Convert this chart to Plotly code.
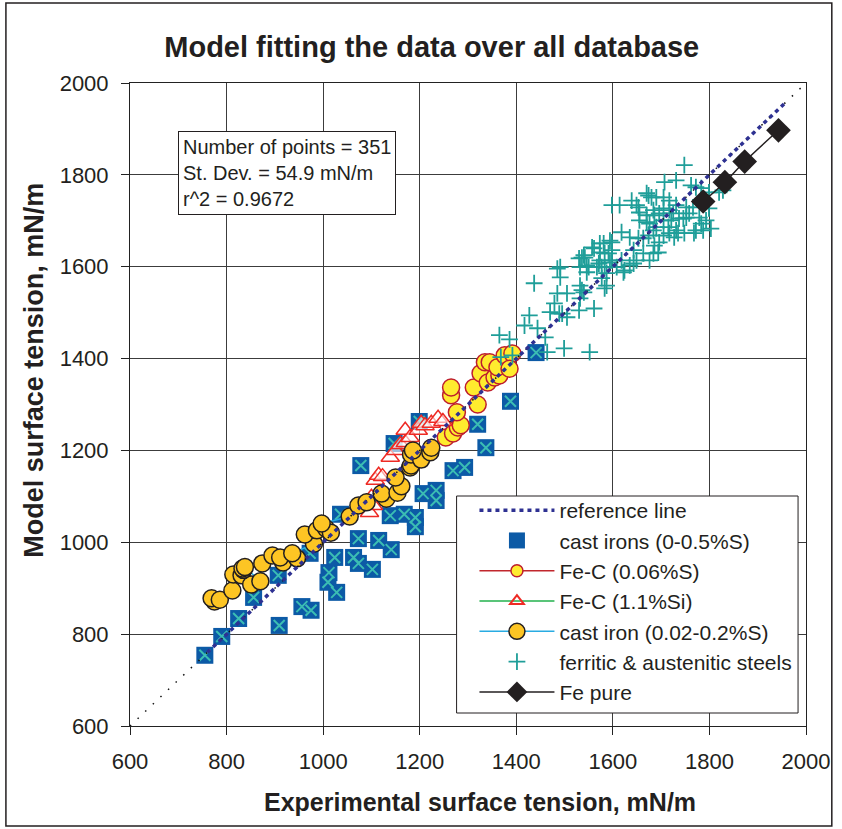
import plotly.graph_objects as go

# ---------------- data ----------------
ref_x = [760, 1960]
ref_y = [760, 1960]
diag_x = [600, 2000]
diag_y = [600, 2000]

cast_x = [755, 790, 825, 856, 907, 909, 956, 975, 973, 1010, 1012, 1028, 1024, 1036, 1063, 1073,
          1102, 1073, 1115, 1141, 1139, 1168, 1191, 1191, 1207, 1234, 1234, 1078, 1147, 1199,
          1269, 1293, 1337, 1320, 1388, 1441]
cast_y = [754, 795, 834, 880, 928, 819, 860, 852, 976, 913, 934, 891, 967, 1061, 967, 954,
          941, 1008, 1004, 984, 1058, 1061, 1054, 1034, 1106, 1113, 1091, 1167, 1215, 1263,
          1156, 1163, 1206, 1257, 1307, 1413]

fec_s_x = [1254, 1269, 1279, 1285, 1277, 1265, 1265, 1312, 1320, 1326, 1335, 1345, 1341, 1355,
           1365, 1361, 1376, 1392, 1386]
fec_s_y = [1228, 1237, 1250, 1255, 1283, 1320, 1337, 1337, 1300, 1368, 1392, 1392, 1348, 1359,
           1363, 1381, 1407, 1411, 1378]

fec_si_x = [1096, 1104, 1100, 1108, 1115, 1123, 1139, 1150, 1160, 1170, 1170, 1180, 1197, 1203,
            1211, 1224, 1238, 1248]
fec_si_y = [1065, 1080, 1098, 1135, 1146, 1143, 1185, 1200, 1213, 1217, 1244, 1228, 1244, 1259,
            1254, 1259, 1270, 1263]

ci_x = [775, 769, 786, 812, 814, 831, 851, 835, 833, 838, 870, 874, 895, 917, 911, 946, 936,
        981, 962, 987, 1006, 1016, 997, 1055, 1073, 1090, 1131, 1121, 1154, 1162, 1150, 1180,
        1182, 1182, 1203, 1186, 1222, 1224]
ci_y = [871, 878, 875, 895, 930, 928, 908, 940, 943, 946, 915, 954, 971, 956, 967, 965, 976,
        997, 1017, 1026, 1030, 1021, 1041, 1056, 1080, 1087, 1095, 1106, 1108, 1122, 1141, 1163,
        1167, 1191, 1180, 1200, 1196, 1206]

steel_x = [1748, 1707, 1731, 1762, 1772, 1783, 1799, 1820, 1828, 1670, 1680, 1705, 1717, 1639,
           1649, 1598, 1614, 1674, 1690, 1653, 1731, 1752, 1655, 1670, 1684, 1696, 1717, 1758,
           1779, 1799, 1725, 1746, 1766, 1686, 1705, 1793, 1655, 1670, 1705, 1721, 1737, 1752,
           1783, 1787, 1803, 1768, 1735, 1717, 1727, 1705, 1684, 1674, 1663, 1676, 1690, 1715,
           1731, 1748, 1772, 1653, 1635, 1618, 1598, 1581, 1594, 1696, 1557, 1573, 1686, 1694,
           1684, 1561, 1573, 1542, 1536, 1591, 1598, 1643, 1663, 1676, 1618, 1594, 1577, 1624,
           1635, 1649, 1598, 1573, 1583, 1567, 1550, 1532, 1491, 1546, 1530, 1540, 1571, 1583,
           1485, 1608, 1587, 1622, 1643, 1491, 1546, 1587, 1437, 1485, 1505, 1532, 1536, 1532,
           1577, 1583, 1479, 1540, 1470, 1489, 1530, 1561, 1505, 1427, 1417, 1444, 1460, 1365,
           1386, 1368, 1392, 1464, 1499, 1552, 1495]
steel_y = [1821, 1784, 1788, 1777, 1773, 1771, 1762, 1762, 1766, 1760, 1751, 1751, 1744, 1744,
           1734, 1734, 1734, 1755, 1751, 1729, 1734, 1729, 1718, 1712, 1723, 1716, 1723, 1716,
           1707, 1727, 1716, 1705, 1729, 1712, 1727, 1701, 1701, 1697, 1701, 1701, 1705, 1707,
           1694, 1679, 1683, 1673, 1673, 1673, 1664, 1668, 1679, 1668, 1662, 1694, 1686, 1686,
           1679, 1673, 1679, 1662, 1664, 1675, 1653, 1651, 1657, 1653, 1642, 1651, 1646, 1631,
           1629, 1640, 1631, 1620, 1620, 1629, 1636, 1636, 1629, 1614, 1614, 1609, 1599, 1592,
           1603, 1614, 1614, 1614, 1599, 1599, 1599, 1599, 1599, 1603, 1618, 1625, 1607, 1629,
           1596, 1599, 1586, 1588, 1607, 1577, 1588, 1559, 1564, 1542, 1542, 1559, 1549, 1531,
           1575, 1553, 1520, 1544, 1501, 1498, 1505, 1509, 1490, 1494, 1472, 1466, 1446, 1451,
           1442, 1403, 1407, 1414, 1422, 1414, 1498]

fe_x = [1787, 1832, 1873, 1943]
fe_y = [1742, 1784, 1829, 1897]

stats_lines = ["Number of points = 351", "St. Dev. = 54.9 mN/m", "r^2 = 0.9672"]
x_ticks = [600, 800, 1000, 1200, 1400, 1600, 1800, 2000]
y_ticks = [600, 800, 1000, 1200, 1400, 1600, 1800, 2000]

FONT = "Liberation Sans, Arial, sans-serif"
NAVY = "#2E3192"
SQ_BLUE = "#0C5AA6"
X_TEAL = "#3BBDB3"
STEEL = "#1F9E99"

fig = go.Figure()

# cast irons squares
fig.add_trace(go.Scatter(x=cast_x, y=cast_y, mode="markers", name="cast irons (0-0.5%S)",
                         marker=dict(symbol="square", size=17, color=SQ_BLUE, line=dict(width=0)),
                         legendrank=2))
fig.add_trace(go.Scatter(x=cast_x, y=cast_y, mode="markers", showlegend=False, hoverinfo="skip",
                         marker=dict(symbol="x-thin", size=11, color=X_TEAL,
                                     line=dict(width=2, color=X_TEAL))))
# Fe-C (0.06%S)
fig.add_trace(go.Scatter(x=fec_s_x, y=fec_s_y, mode="markers", showlegend=False,
                         marker=dict(symbol="circle", size=17, color="#FFEC2E",
                                     line=dict(width=1.5, color="#BE1E2D"))))
fig.add_trace(go.Scatter(x=[None], y=[None], mode="lines+markers", name="Fe-C (0.06%S)",
                         line=dict(color="#C1272D", width=1.5),
                         marker=dict(symbol="circle", size=12, color="#FFEC2E",
                                     line=dict(width=1.5, color="#BE1E2D")),
                         legendrank=3))
# Fe-C (1.1%Si)
fig.add_trace(go.Scatter(x=fec_si_x, y=fec_si_y, mode="markers", showlegend=False,
                         marker=dict(symbol="triangle-up", size=16, color="rgba(255,255,255,0.6)",
                                     line=dict(width=1.5, color="#EE2A24"))))
fig.add_trace(go.Scatter(x=[None], y=[None], mode="lines+markers", name="Fe-C (1.1%Si)",
                         line=dict(color="#22B14C", width=1.5),
                         marker=dict(symbol="triangle-up-open", size=12, color="#EE2A24",
                                     line=dict(width=2, color="#EE2A24")),
                         legendrank=4))
# cast iron (0.02-0.2%S)
fig.add_trace(go.Scatter(x=ci_x, y=ci_y, mode="lines+markers", name="cast iron (0.02-0.2%S)",
                         line=dict(color="#29ABE2", width=1.5),
                         marker=dict(symbol="circle", size=17, color="#FDC524",
                                     line=dict(width=1.5, color="#231F20")),
                         legendrank=5))
# steels
fig.add_trace(go.Scatter(x=steel_x, y=steel_y, mode="markers", name="ferritic & austenitic steels",
                         marker=dict(symbol="cross-thin", size=12, color=STEEL,
                                     line=dict(width=1.8, color=STEEL)),
                         legendrank=6))
# reference lines
fig.add_trace(go.Scatter(x=diag_x, y=diag_y, mode="lines", showlegend=False, hoverinfo="skip",
                         line=dict(color="#111111", width=1.5, dash="1.5px,9px")))
fig.add_trace(go.Scatter(x=ref_x, y=ref_y, mode="lines", name="reference line",
                         line=dict(color=NAVY, width=3.5, dash="4px,4px"), legendrank=1))
# Fe pure
fig.add_trace(go.Scatter(x=fe_x, y=fe_y, mode="lines+markers", name="Fe pure",
                         line=dict(color="#231F20", width=1.5, shape="spline"),
                         marker=dict(symbol="diamond", size=19, color="#231F20"),
                         legendrank=7))

axis_common = dict(showgrid=True, gridcolor="#3C3C3C", gridwidth=1, showline=True,
                   linecolor="#222222", linewidth=1, mirror=True, ticks="outside", ticklen=8,
                   tickcolor="#222222", zeroline=False,
                   tickfont=dict(family=FONT, size=22, color="#231F20"))
fig.update_xaxes(range=[600, 2000], tickvals=x_ticks, ticktext=[str(v) for v in x_ticks],
                 ticklabelstandoff=8, **axis_common)
fig.update_yaxes(range=[600, 2000], tickvals=y_ticks, ticktext=[str(v) for v in y_ticks],
                 ticklabelstandoff=8, **axis_common)

W, H = 842, 829
L, R, T, B = 130, 31, 83, 103
pw, ph = W - L - R, H - T - B


def px_x(p):
    return (p - L) / pw


def px_y(p):
    return (H - B - p) / ph


fig.update_layout(
    width=W, height=H,
    margin=dict(l=L, r=R, t=T, b=B),
    paper_bgcolor="white", plot_bgcolor="white",
    font=dict(family=FONT, color="#231F20"),
    title=dict(text="<b>Model fitting the data over all database</b>",
               font=dict(family=FONT, size=29, color="#231F20"),
               xref="paper", x=px_x(434), xanchor="center",
               yref="container", y=1 - 47 / H, yanchor="middle"),
    showlegend=True,
    legend=dict(x=px_x(477), y=px_y(490), xanchor="left", yanchor="top",
                bgcolor="rgba(0,0,0,0)", borderwidth=0,
                font=dict(family=FONT, size=21, color="#231F20"),
                tracegroupgap=0, itemwidth=75),
    shapes=[
        dict(type="rect", xref="paper", yref="paper",
             x0=px_x(459), x1=px_x(803), y0=px_y(713), y1=px_y(496),
             line=dict(color="#231F20", width=1), fillcolor="white", layer="above"),
        dict(type="rect", xref="paper", yref="paper",
             x0=px_x(5), x1=px_x(837), y0=px_y(826), y1=px_y(3),
             line=dict(color="#231F20", width=1.5), fillcolor="rgba(0,0,0,0)", layer="below"),
    ],
    annotations=[
        dict(text="<br>".join(stats_lines), xref="paper", yref="paper",
             x=px_x(178), y=px_y(131), xanchor="left", yanchor="top", align="left",
             showarrow=False, bgcolor="white", bordercolor="#231F20", borderwidth=1, borderpad=4,
             font=dict(family=FONT, size=20, color="#231F20")),
        dict(text="<b>Experimental surface tension, mN/m</b>", xref="paper", yref="paper",
             x=px_x(483), y=px_y(802), xanchor="center", yanchor="middle", showarrow=False,
             font=dict(family=FONT, size=25, color="#231F20")),
        dict(text="<b>Model surface tension, mN/m</b>", xref="paper", yref="paper",
             x=px_x(33), y=px_y(370), xanchor="center", yanchor="middle", showarrow=False,
             textangle=-90, font=dict(family=FONT, size=27, color="#231F20")),
    ],
)

fig.write_html("out.html", config={"displayModeBar": False},
               post_script="document.body.style.margin='0';document.body.style.padding='0';")
